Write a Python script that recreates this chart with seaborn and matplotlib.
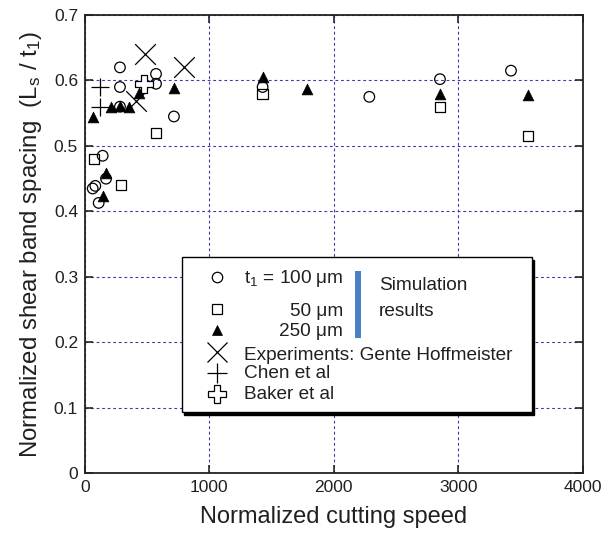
import matplotlib
matplotlib.use("Agg")
import matplotlib.pyplot as plt
import seaborn as sns
from matplotlib.patches import Rectangle
from matplotlib.lines import Line2D

# ---- data ----
t100_x = [281, 571, 571, 281, 281, 715, 142, 169, 62, 83, 110, 1428, 2286, 2854, 3425]
t100_y = [0.620, 0.610, 0.595, 0.590, 0.560, 0.545, 0.485, 0.450, 0.435, 0.439, 0.413, 0.590, 0.575, 0.602, 0.615]

t50_x = [74, 287, 571, 1428, 2854, 3564]
t50_y = [0.480, 0.440, 0.520, 0.579, 0.560, 0.515]

t250_x = [67, 206, 281, 356, 431, 715, 169, 142, 1428, 1781, 2854, 3564]
t250_y = [0.544, 0.559, 0.561, 0.559, 0.581, 0.588, 0.458, 0.424, 0.606, 0.587, 0.579, 0.578]

gente_x = [482, 798, 410]
gente_y = [0.641, 0.620, 0.568]

chen_x = [121, 121]
chen_y = [0.590, 0.560]

baker_x = [478]
baker_y = [0.595]

x_ticks = [0, 1000, 2000, 3000, 4000]
y_ticks = [0, 0.1, 0.2, 0.3, 0.4, 0.5, 0.6, 0.7]
y_tick_labels = ["0", "0.1", "0.2", "0.3", "0.4", "0.5", "0.6", "0.7"]

legend_labels = ["t$_1$ = 100 μm", "50 μm", "250 μm",
                 "Experiments: Gente Hoffmeister", "Chen et al", "Baker et al"]

# ---- style ----
sns.set_style("ticks")
plt.rcParams["font.family"] = ["Liberation Sans", "DejaVu Sans"]
plt.rcParams["mathtext.fontset"] = "custom"
plt.rcParams["mathtext.rm"] = "Liberation Sans"
plt.rcParams["mathtext.it"] = "Liberation Sans"
plt.rcParams["mathtext.default"] = "regular"

TXT = "#231f20"
GRID = "#3a3aa8"

fig = plt.figure(figsize=(6.03, 5.34), dpi=100)
ax = fig.add_axes([85 / 603, 1 - 473.3 / 534, 497.5 / 603, 458.3 / 534])

# ---- data marks ----
sns.scatterplot(x=t100_x, y=t100_y, marker="o", s=58, facecolor="none",
                edgecolor="black", linewidth=0.9, ax=ax, zorder=3)
sns.scatterplot(x=t50_x, y=t50_y, marker="s", s=55, facecolor="none",
                edgecolor="black", linewidth=0.9, ax=ax, zorder=3)
sns.scatterplot(x=t250_x, y=t250_y, marker="^", s=60, color="black",
                edgecolor="black", linewidth=0.5, ax=ax, zorder=4)
sns.scatterplot(x=gente_x, y=gente_y, marker="x", s=220, color="black",
                linewidth=0.9, ax=ax, zorder=3)
sns.scatterplot(x=chen_x, y=chen_y, marker="+", s=180, color="black",
                linewidth=0.9, ax=ax, zorder=3)
sns.scatterplot(x=baker_x, y=baker_y, marker="P", s=170, facecolor="white",
                edgecolor="black", linewidth=0.9, ax=ax, zorder=5)

# ---- axes ----
ax.set_xlim(0, 4000)
ax.set_ylim(0, 0.7)
ax.set_xticks(x_ticks)
ax.set_xticklabels([str(v) for v in x_ticks])
ax.set_yticks(y_ticks)
ax.set_yticklabels(y_tick_labels)
ax.tick_params(direction="in", length=6, width=1.2, top=True, right=True,
               labelsize=12.5, labelcolor=TXT, pad=5)
for sp in ax.spines.values():
    sp.set_linewidth(1.3)
    sp.set_color("#222222")
ax.grid(True, color=GRID, linestyle=(0, (2.5, 2.5)), linewidth=0.8)
ax.set_axisbelow(True)

ax.set_xlabel("Normalized cutting speed", fontsize=17, color=TXT, labelpad=8)
ax.set_ylabel("Normalized shear band spacing  (L$_s$ / t$_1$)", fontsize=17.3,
              color=TXT, labelpad=7)

# ---- custom legend ----
tr = ax.transAxes
bx0, bx1 = 0.194, 0.898
by0, by1 = 0.134, 0.472
ax.add_patch(Rectangle((bx0 + 0.005, by0 - 0.007), bx1 - bx0, by1 - by0,
                       transform=tr, facecolor="black", edgecolor="black",
                       zorder=9, clip_on=False))
ax.add_patch(Rectangle((bx0, by0), bx1 - bx0, by1 - by0, transform=tr,
                       facecolor="white", edgecolor="black", linewidth=1.0,
                       zorder=10, clip_on=False))

mx = 0.265
marker_rows = [
    (0.429, dict(marker="o", ms=7.5, mfc="none", mec="black", mew=0.9)),
    (0.358, dict(marker="s", ms=7.2, mfc="none", mec="black", mew=0.9)),
    (0.313, dict(marker="^", ms=7.5, mfc="black", mec="black", mew=0.5)),
    (0.265, dict(marker="x", ms=15, mec="black", mew=0.9)),
    (0.2195, dict(marker="+", ms=14, mec="black", mew=0.9)),
    (0.173, dict(marker="P", ms=12.5, mfc="white", mec="black", mew=0.9)),
]
for yy, kw in marker_rows:
    ax.add_line(Line2D([mx], [yy], transform=tr, linestyle="none",
                       zorder=11, clip_on=False, **kw))

fs = 13.7
ax.text(0.3196, 0.426, legend_labels[0], transform=tr, fontsize=fs, color=TXT,
        ha="left", va="center", zorder=11)
ax.text(0.5186, 0.3526, legend_labels[1], transform=tr, fontsize=fs, color=TXT,
        ha="right", va="center", zorder=11)
ax.text(0.5186, 0.309, legend_labels[2], transform=tr, fontsize=fs, color=TXT,
        ha="right", va="center", zorder=11)
ax.text(0.3196, 0.258, legend_labels[3], transform=tr, fontsize=fs, color=TXT,
        ha="left", va="center", zorder=11)
ax.text(0.3196, 0.218, legend_labels[4], transform=tr, fontsize=fs, color=TXT,
        ha="left", va="center", zorder=11)
ax.text(0.3196, 0.171, legend_labels[5], transform=tr, fontsize=fs, color=TXT,
        ha="left", va="center", zorder=11)

ax.add_patch(Rectangle((0.543, 0.295), 0.012, 0.147, transform=tr,
                       facecolor="#4a80c4", edgecolor="none", zorder=11,
                       clip_on=False))
ax.text(0.591, 0.409, "Simulation", transform=tr, fontsize=fs, color=TXT,
        ha="left", va="center", zorder=11)
ax.text(0.591, 0.3526, "results", transform=tr, fontsize=fs, color=TXT,
        ha="left", va="center", zorder=11)

fig.savefig("out.png", dpi=100)
